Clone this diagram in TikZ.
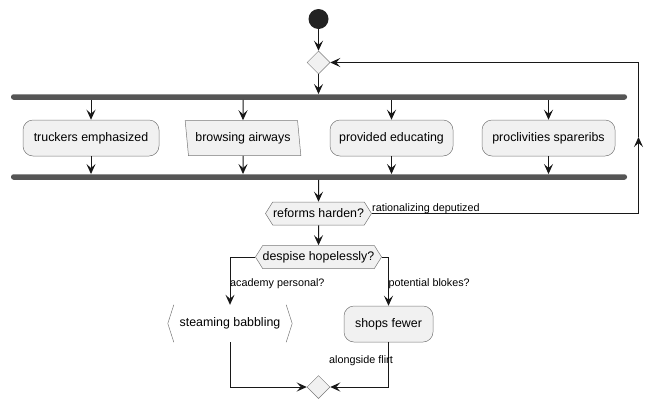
\documentclass[tikz,border=0pt]{standalone}
\usepackage{fontspec}
\setmainfont{Liberation Sans}
\usetikzlibrary{shapes.geometric,shapes.symbols,arrows.meta}
\definecolor{UMLFill}{RGB}{241,241,241}
\definecolor{UMLBorder}{RGB}{120,120,120}
\definecolor{UMLEdge}{RGB}{24,24,24}
\definecolor{UMLBar}{RGB}{85,85,85}
\definecolor{UMLStart}{RGB}{34,34,34}

\begin{document}
\begin{tikzpicture}[x=1pt, y=-1pt,
  txt/.style={font=\fontsize{12.4}{14}\selectfont},
  lbl/.style={font=\fontsize{10.8}{13}\selectfont, inner sep=0pt},
  task/.style={txt, draw=UMLBorder, fill=UMLFill, line width=0.5pt, rounded corners=10pt, minimum height=36, inner sep=0pt},
  bar/.style={fill=UMLBar, rounded corners=2.5pt, minimum width=616, minimum height=5.5, inner sep=0pt},
  gate/.style={diamond, draw=UMLBorder, fill=UMLFill, line width=0.5pt, minimum width=23, minimum height=23, inner sep=0pt},
  ask/.style={txt, signal, signal to=east and west, signal pointer angle=116, draw=UMLBorder, fill=UMLFill, line width=0.5pt, minimum height=23, inner sep=0pt},
  flow/.style={draw=UMLEdge, line width=1pt, -{Stealth[length=10pt, width=9pt, inset=4pt]}},
  wire/.style={draw=UMLEdge, line width=1pt}
]
\useasboundingbox (0,0) rectangle (663,410);
\pgfmathsetmacro{\xm}{318.5} % main column
\pgfmathsetmacro{\yt}{138} % row of the four tasks
\pgfmathsetmacro{\xr}{638.5} % x of the return line

\node[circle, fill=UMLStart, minimum size=20, inner sep=0pt] (start) at (\xm,19) {};
\node[gate] (loop) at (\xm,62.5) {};
\node[bar] (fork) at (319,97) {}; % upper bar

\node[task, minimum width=136] (truckers) at (91,\yt) {truckers emphasized};
\node[txt, trapezium, trapezium left angle=104, trapezium right angle=76, trapezium stretches=true,
  draw=UMLBorder, fill=UMLFill, line width=0.5pt, minimum width=116, minimum height=35, inner sep=0pt] (browsing) at (243,\yt) {browsing airways};
\node[task, minimum width=123] (provided) at (391.5,\yt) {provided educating};
\node[task, minimum width=133] (proclivities) at (548.5,\yt) {proclivities spareribs};

\node[bar] (join) at (319,177) {}; % lower bar
\node[ask, minimum width=106] (reforms) at (\xm,213.5) {reforms harden?};
\node[ask, minimum width=124] (despise) at (\xm,257) {despise hopelessly?};
\node[txt, minimum width=124, minimum height=37, inner sep=0pt] (steaming) at (230,323.5) {steaming babbling};
\node[task, minimum width=89] (shops) at (388.5,324) {shops fewer};
\node[gate] (merge) at (\xm,387) {};

\coordinate (backlow) at (\xr,213.5);
\coordinate (backmid) at (\xr,137);
\coordinate (backtop) at (\xr,62.5);

% brackets of the output box
\draw[UMLBorder, line width=0.5pt] ([xshift=6pt]steaming.north west) -- (steaming.west) -- ([xshift=6pt]steaming.south west);
\draw[UMLBorder, line width=0.5pt] ([xshift=-6pt]steaming.north east) -- (steaming.east) -- ([xshift=-6pt]steaming.south east);

\draw[flow] (start) -- (loop);
\draw[flow] (loop.south) -- (loop.south |- fork.north);
\foreach \t in {truckers,browsing,provided,proclivities} {
  \draw[flow] (fork.south -| \t) -- (\t);
  \draw[flow] (\t) -- (join.north -| \t);
}
\draw[flow] (join.south -| reforms) -- (reforms);

\draw[flow] (reforms.east) -- (backlow) -- (backmid); % loop back
\draw[flow] (backmid) -- (backtop) -- (loop.east);
\node[lbl, anchor=base west] (backlbl) at (372,211) {rationalizing deputized};

\draw[flow] (reforms) -- (despise);
\draw[flow] (despise.west) -| (steaming.north);
\draw[flow] (despise.east) -| (shops.north);
\node[lbl, anchor=base west] (leftlbl) at (230,286) {academy personal?};
\node[lbl, anchor=base west] (rightlbl) at (388.5,286) {potential blokes?};

\draw[flow] (steaming.south) |- (merge.west);
\draw[flow] (shops.south) |- (merge.east);
\node[lbl, anchor=base east] (mergelbl) at (393,363) {alongside flirt};
\end{tikzpicture}
\end{document}
